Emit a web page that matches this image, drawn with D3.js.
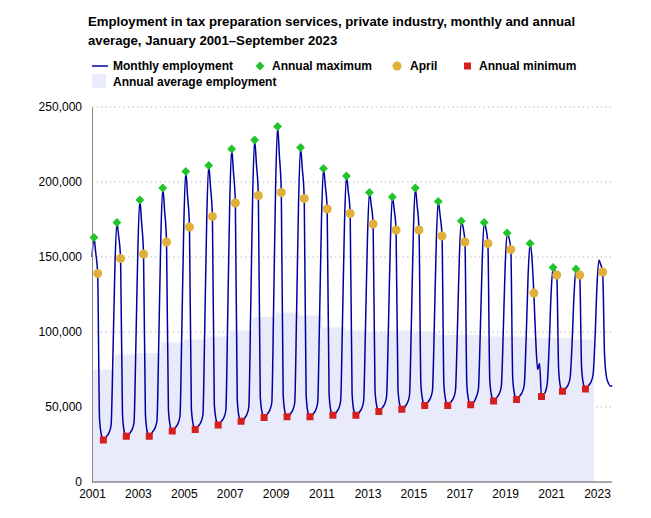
<!DOCTYPE html>
<html><head><meta charset="utf-8">
<script src="https://cdn.jsdelivr.net/npm/d3@7"></script>
<style>body{margin:0;background:#fff;font-family:Arial,"Liberation Sans",sans-serif}</style>
</head><body><svg id="c" width="651" height="518"></svg>
<script>
const years = d3.range(2001, 2024);
// monthly employment (thousands), one row per year
const monthly = [
[150,163,153,139,42,31,28,29,31,33,38,86],
[144,173,164,149,45,33,30.5,31,33,35,40,93],
[156,188,173,152,45,33,30.5,32,34,36,41,97],
[163,196,181,160,48,37,34,35,37,39,44,103],
[172,207,191,170,49,38,35,36,38,40,45,105],
[176,211,197,177,52,41,38,39,41,43,48,112],
[185,222,207,186,55,43,40.5,41,43,45,50,115],
[190,228,212,191,57,46,43,44,46,48,53,120],
[198,237,218,193,58,46,43.5,44,46,48,53,115],
[187,223,209,189,58,46,43.5,44,46,48,53,110],
[176,209,198,182,59,47,44.5,45,47,49,54,108],
[172,204,194,179,59,47,44.5,45,47,49,54,104],
[163,193,185,172,61,50,47,48,50,52,57,104],
[161,190,182,168,62,51,48.5,49,51,53,58,107],
[166,196,185,168,65,54,51,52,54,56,61,105],
[160,187,178,164,65,54,51,52,54,56,61,100],
[149,174,170,160,65,54,51.5,52,54,57,62,100],
[148,173,169,159,68,57,54,55,57,59,64,99],
[144,166,163,155,69,58,55,56,58,60,65,96],
[138,159,150,126,95,75,79,57,58,60,66,91],
[126,143,141,138,75,63,60.5,61,63,65,70,93],
[125,142,141,138,76,65,62,63,65,67,72,96],
[131,148,145,140,85,70,66,64,64]
];
const annualMax = [163,173,188,196,207,211,222,228,237,223,209,204,193,190,196,187,174,173,166,159,143,142];
const aprilVals = [139,149,152,160,170,177,186,191,193,189,182,179,172,168,168,164,160,159,155,126,138,138,140];
const annualMin = [28,30.5,30.5,34,35,38,40.5,43,43.5,43.5,44.5,44.5,47,48.5,51,51,51.5,54,55,57,60.5,62];
const minMonth  = [6,6,6,6,6,6,6,6,6,6,6,6,6,6,6,6,6,6,6,7,6,6];
const annualAvg = [75,85,86,93,95,97,101,110,113,111,103,101,100,101,100,98,98,97,97,96,96,95];
const yTicks = [0,50000,100000,150000,200000,250000];
const xTickYears = [2001,2003,2005,2007,2009,2011,2013,2015,2017,2019,2021,2023];

const svg = d3.select("#c");
const x = d3.scaleTime().domain([new Date(2001,0,1), new Date(2023,0,1)]).range([92,597]);
const y = d3.scaleLinear().domain([0,250000]).range([482,107]);
const blue="#0000a0";

svg.append("text").attr("x",88).attr("y",26).attr("font-size",13.2).attr("font-weight","bold").text("Employment in tax preparation services, private industry, monthly and annual");
svg.append("text").attr("x",88).attr("y",45).attr("font-size",13.2).attr("font-weight","bold").text("average, January 2001–September 2023");

// grid
svg.selectAll(".g").data(yTicks.slice(1)).enter().append("line")
 .attr("x1",92).attr("x2",612).attr("y1",d=>y(d)).attr("y2",d=>y(d))
 .attr("stroke","#bbb").attr("stroke-dasharray","1.5,3");

// annual average area
svg.selectAll(".avg").data(annualAvg).enter().append("rect")
 .attr("x",(d,i)=>x(new Date(years[i],0,1)))
 .attr("width",(d,i)=>x(new Date(years[i]+1,0,1))-x(new Date(years[i],0,1))+(i<annualAvg.length-1?0.5:-3))
 .attr("y",d=>y(d*1000)).attr("height",d=>482-y(d*1000))
 .attr("fill","#e9ebfa");

const pts=[];
monthly.forEach((row,i)=>row.forEach((v,m)=>pts.push({date:new Date(years[i],m,1),v:v*1000})));
svg.append("path").datum(pts).attr("fill","none").attr("stroke",blue).attr("stroke-width",1.5)
 .attr("d",d3.line().x(d=>x(d.date)).y(d=>y(d.v)).curve(d3.curveMonotoneX));

// axes
const ya=svg.append("g").attr("transform","translate(92,0)").call(d3.axisLeft(y).tickValues(yTicks).tickSize(0).tickPadding(10).tickFormat(d3.format(",")));
ya.select(".domain").attr("stroke","#888");
const xa=svg.append("g").attr("transform","translate(0,482)").call(d3.axisBottom(x).tickValues(xTickYears.map(v=>new Date(v,0,1))).tickSize(0).tickPadding(7).tickFormat(d3.timeFormat("%Y")));
xa.select(".domain").attr("stroke","#888").attr("d","M92,0H612").attr("stroke-width",1.5);
svg.selectAll(".tick text").attr("font-size",12).attr("fill","#000").attr("font-family","Arial,'Liberation Sans',sans-serif");

// markers
const diamond=d3.symbol().type(d3.symbolDiamond2).size(50);
svg.selectAll(".mx").data(annualMax).enter().append("path")
 .attr("d",diamond).attr("fill","#22c32b")
 .attr("transform",(d,i)=>`translate(${x(new Date(years[i],1,1))},${y(d*1000)})`);
svg.selectAll(".ap").data(aprilVals).enter().append("circle")
 .attr("cx",(d,i)=>x(new Date(years[i],3,1))).attr("cy",d=>y(d*1000)).attr("r",4.5).attr("fill","#e0b03a");
svg.selectAll(".mn").data(annualMin).enter().append("rect")
 .attr("x",(d,i)=>x(new Date(years[i],minMonth[i],1))-3.5).attr("y",d=>y(d*1000)-3.5)
 .attr("width",7).attr("height",7).attr("fill","#d62020");

// legend
const lg=svg.append("g").attr("font-size",12).attr("font-weight","bold");
lg.append("line").attr("x1",92).attr("x2",108).attr("y1",66).attr("y2",66).attr("stroke",blue).attr("stroke-width",1.5);
lg.append("text").attr("x",113).attr("y",70).text("Monthly employment");
lg.append("path").attr("d",diamond).attr("fill","#22c32b").attr("transform","translate(260,66)");
lg.append("text").attr("x",272).attr("y",70).text("Annual maximum");
lg.append("circle").attr("cx",397).attr("cy",66).attr("r",4.5).attr("fill","#e0b03a");
lg.append("text").attr("x",410).attr("y",70).text("April");
lg.append("rect").attr("x",464).attr("y",62.5).attr("width",7).attr("height",7).attr("fill","#d62020");
lg.append("text").attr("x",479).attr("y",70).text("Annual minimum");
lg.append("rect").attr("x",92).attr("y",74).attr("width",14).attr("height",14).attr("fill","#e9ebfa");
lg.append("text").attr("x",113).attr("y",86).text("Annual average employment");
</script></body></html>
